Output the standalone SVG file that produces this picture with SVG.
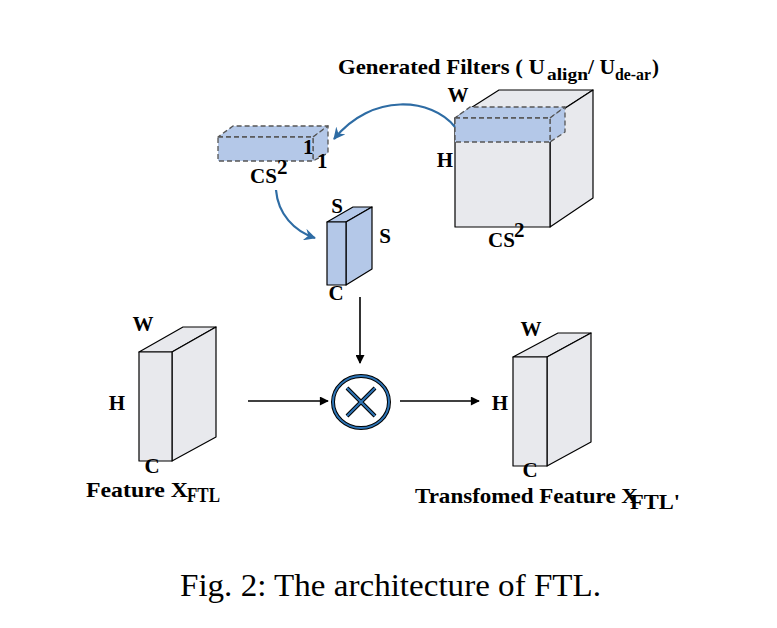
<svg xmlns="http://www.w3.org/2000/svg" width="777" height="628" viewBox="0 0 777 628">
<style>
.lb{font-family:"Liberation Serif","Times New Roman",serif;font-weight:bold;font-size:21px;fill:#000}
.gr{fill:#e8e9ed;stroke:#000;stroke-width:1.2;stroke-linejoin:round}
.bl{fill:#b4c8e8;stroke:#000;stroke-width:1.2;stroke-linejoin:round}
.bd{fill:#b4c8e8;stroke:#555;stroke-width:1.3;stroke-dasharray:5 3;stroke-linejoin:round}
.ar{stroke:#000;stroke-width:1.6;fill:none}
.ba{stroke:#2e6ca4;stroke-width:2.2;fill:none}
</style>
<defs>
<marker id="ah" viewBox="0 0 10 10" refX="9" refY="5" markerWidth="10" markerHeight="9" markerUnits="userSpaceOnUse" orient="auto"><path d="M0,0 L10,5 L0,10 z" fill="#000"/></marker>
<marker id="bh" viewBox="0 0 12 12" refX="11" refY="6" markerWidth="12" markerHeight="12" markerUnits="userSpaceOnUse" orient="auto"><path d="M0,0 L12,6 L0,12 L4,6 z" fill="#2e6ca4"/></marker>
</defs>
<rect width="777" height="628" fill="#fff"/>

<text class="lb" font-size="22"><tspan x="338" y="74" textLength="207" lengthAdjust="spacingAndGlyphs">Generated Filters ( U</tspan><tspan x="547" y="80" font-size="17" textLength="41" lengthAdjust="spacingAndGlyphs">align</tspan><tspan x="588" y="74" textLength="27" lengthAdjust="spacingAndGlyphs">/ U</tspan><tspan x="615" y="80" font-size="17" textLength="36" lengthAdjust="spacingAndGlyphs">de-ar</tspan><tspan x="652" y="74">)</tspan></text>

<g id="filters">
<polygon class="gr" points="455,118 550,118 593,90 499,90"/>
<polygon class="gr" points="550,118 593,90 593,198 550,227"/>
<rect class="gr" x="455" y="118" width="95" height="109"/>
<polygon class="bd" points="455,118 550,118 565,107 470,107"/>
<polygon class="bd" points="550,118 565,107 565,132 550,142"/>
<rect class="bd" x="455" y="118" width="95" height="24"/>
<text class="lb" x="458" y="102" text-anchor="middle">W</text>
<text class="lb" x="445" y="167" text-anchor="middle">H</text>
<text class="lb" x="488" y="247">CS</text>
<text class="lb" x="514" y="237" font-size="14">2</text>
</g>

<g id="slab">
<polygon class="bd" points="218,137 313,137 328,126 233,126"/>
<polygon class="bd" points="313,137 328,126 328,153 313,161"/>
<rect class="bd" x="218" y="137" width="95" height="24"/>
<text class="lb" x="303" y="154">1</text>
<text class="lb" x="317" y="168">1</text>
<text class="lb" x="250" y="183">CS</text>
<text class="lb" x="277" y="174" font-size="14">2</text>
</g>

<g id="kernel">
<polygon class="bl" points="327,222 346,222 372,207 353,207"/>
<polygon class="bl" points="346,222 372,207 372,269 346,285"/>
<rect class="bl" x="327" y="222" width="19" height="63"/>
<text class="lb" x="337" y="213" text-anchor="middle">S</text>
<text class="lb" x="385" y="243" text-anchor="middle">S</text>
<text class="lb" x="336" y="300" text-anchor="middle">C</text>
</g>

<g id="feature">
<polygon class="gr" points="139,352 172,352 216,327 183,327"/>
<polygon class="gr" points="172,352 216,327 216,437 172,461"/>
<rect class="gr" x="139" y="352" width="33" height="109"/>
<text class="lb" x="143" y="331" text-anchor="middle">W</text>
<text class="lb" x="117" y="410" text-anchor="middle">H</text>
<text class="lb" x="152" y="473" text-anchor="middle">C</text>
<text class="lb" x="86" y="497" textLength="102" lengthAdjust="spacingAndGlyphs">Feature X</text>
<text class="lb" x="187" y="502" font-size="16" textLength="33" lengthAdjust="spacingAndGlyphs">FTL</text>
</g>

<g id="transformed">
<polygon class="gr" points="513,357 547,357 591,333 558,333"/>
<polygon class="gr" points="547,357 591,333 591,442 547,466"/>
<rect class="gr" x="513" y="357" width="34" height="109"/>
<text class="lb" x="531" y="336" text-anchor="middle">W</text>
<text class="lb" x="500" y="410" text-anchor="middle">H</text>
<text class="lb" x="530" y="477" text-anchor="middle">C</text>
<text class="lb" x="415" y="503" textLength="223" lengthAdjust="spacingAndGlyphs">Transfomed Feature X</text>
<text class="lb" x="630" y="509" font-size="16" textLength="50" lengthAdjust="spacingAndGlyphs">FTL'</text>
</g>

<g id="multiply">
<ellipse cx="361" cy="402" rx="28" ry="26" fill="#fff" stroke="#000" stroke-width="4"/>
<ellipse cx="361" cy="402" rx="28" ry="26" fill="none" stroke="#2e75b6" stroke-width="2"/>
<path d="M347,388 L375,416 M375,388 L347,416" stroke="#000" stroke-width="4"/>
<path d="M347,388 L375,416 M375,388 L347,416" stroke="#2e75b6" stroke-width="2"/>
</g>

<g id="connectors">
<path class="ba" d="M455,127 C432,98 372,92 334,139" marker-end="url(#bh)"/>
<path class="ba" d="M276,190 C278,214 294,231 315,238" marker-end="url(#bh)"/>
<line class="ar" x1="360" y1="297" x2="360" y2="363" marker-end="url(#ah)"/>
<line class="ar" x1="248" y1="401" x2="328" y2="401" marker-end="url(#ah)"/>
<line class="ar" x1="400" y1="401" x2="479" y2="401" marker-end="url(#ah)"/>
</g>

<text x="180" y="596" font-family="'Liberation Serif','Times New Roman',serif" font-size="32" textLength="421" lengthAdjust="spacingAndGlyphs">Fig. 2: The architecture of FTL.</text>
</svg>
